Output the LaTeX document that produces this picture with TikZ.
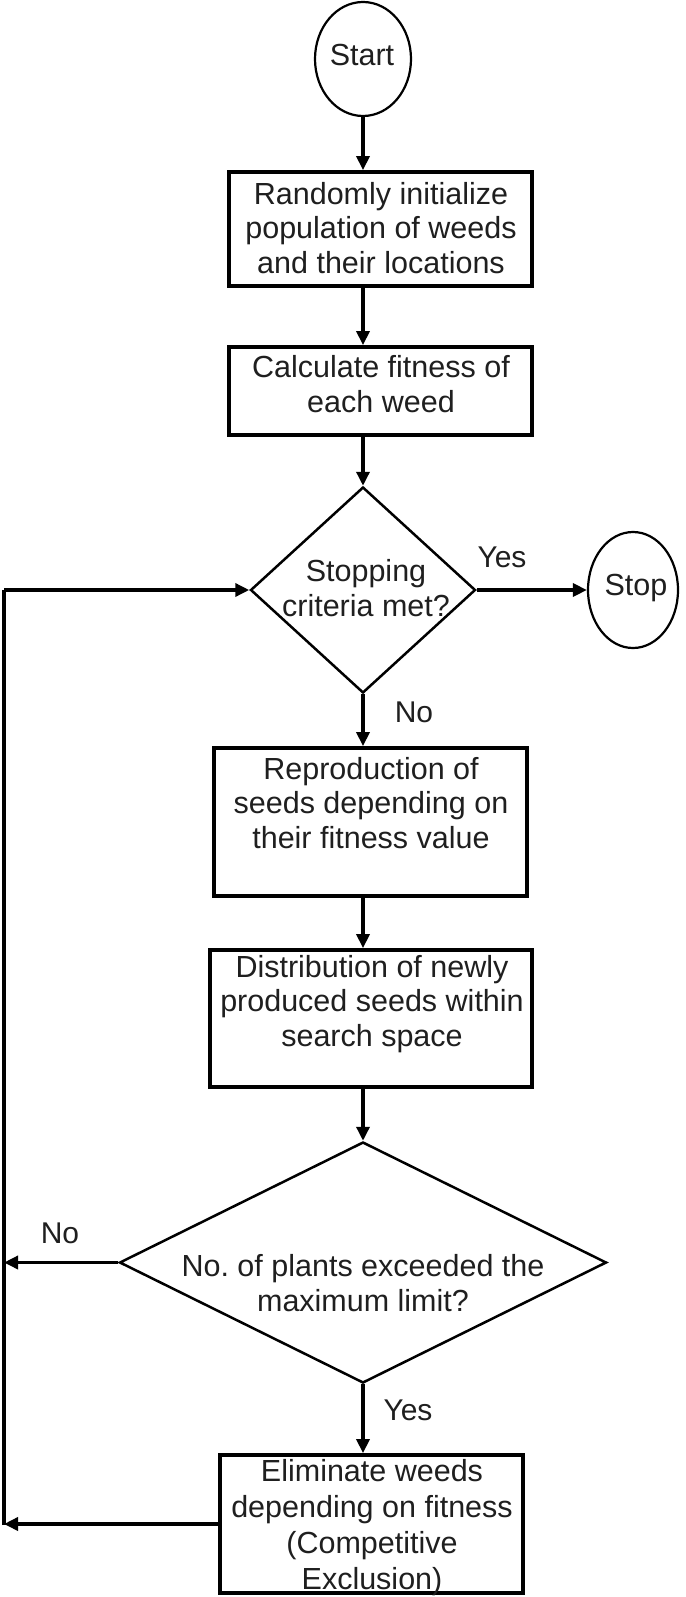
\documentclass[tikz,border=0pt]{standalone}
\usepackage{fontspec}
\setmainfont{Liberation Sans}
\usetikzlibrary{shapes.geometric,arrows.meta}
\begin{document}
\begin{tikzpicture}[x=1pt,y=-1pt,
  txt/.style={inner sep=0pt, align=center, font=\fontsize{30.5}{34.5}\selectfont, text=black!88},
  lbl/.style={inner sep=0pt, font=\fontsize{30}{34}\selectfont, text=black!88},
  boxshape/.style={draw, rectangle, line width=3.8pt, inner sep=0pt},
  term/.style={draw, ellipse, line width=2.2pt, inner sep=0pt},
  decide/.style={draw, diamond, line width=2.5pt, inner sep=0pt},
  conn/.style={line width=3.4pt, -{Triangle[length=14pt,width=13pt]}},
  plain/.style={line width=3.4pt}
]
\fill[white] (0,0) rectangle (685,1597);
\useasboundingbox (0,0) rectangle (685,1597);

% shapes
\node[term, minimum width=96pt, minimum height=114pt] (start) at (363,59) {};
\node[boxshape, minimum width=303pt, minimum height=114pt] (b1) at (380.5,229) {};
\node[boxshape, minimum width=303pt, minimum height=88pt] (b2) at (380.5,391) {};
\node[decide, minimum width=225pt, minimum height=206pt] (d1) at (363,590) {};
\node[term, minimum width=90pt, minimum height=116pt] (stop) at (633,590) {};
\node[boxshape, minimum width=313pt, minimum height=148pt] (b3) at (370.5,822) {};
\node[boxshape, minimum width=322pt, minimum height=137pt] (b4) at (371,1018.5) {};
\node[decide, minimum width=487pt, minimum height=241pt] (d2) at (363,1262.5) {};
\node[boxshape, minimum width=303pt, minimum height=138pt] (b5) at (371.5,1524) {};

% texts
\node[txt] (tstart) at (362,55) {Start};
\node[txt] (t1) at (381,228) {Randomly initialize\\population of weeds\\and their locations};
\node[txt] (t2) at (381,384) {Calculate fitness of\\each weed};
\node[txt] (td1) at (366,588) {Stopping\\criteria met?};
\node[txt] (tstop) at (636,588) {Stop};
\node[txt] (t3) at (371,803) {Reproduction of\\seeds depending on\\their fitness value};
\node[txt] (t4) at (372,1004) {Distribution of newly\\produced seeds within\\search space};
\node[txt] (td2) at (363,1283) {No.\ of plants exceeded the\\maximum limit?};
\node[txt, font=\fontsize{30.5}{36}\selectfont] (t5) at (372,1528) {Eliminate weeds\\depending on fitness\\(Competitive\\Exclusion)};

% labels
\node[lbl] (lyes1) at (502,557) {Yes};
\node[lbl] (lno1) at (414,712) {No};
\node[lbl] (lno2) at (60,1233) {No};
\node[lbl] (lyes2) at (408,1410) {Yes};

% loop coordinates
\coordinate (lt) at (4,590);
\coordinate (lb) at (4,1525);

% connectors
\draw[conn] (start.south) -- (start.south |- b1.north);
\draw[conn] (b1.south -| start.south) -- (start.south |- b2.north);
\draw[conn] (b2.south -| start.south) -- (d1.north);
\draw[conn] (d1.east) -- (stop.west);
\draw[conn] (d1.south) -- (d1.south |- b3.north);
\draw[conn] (b3.south -| d1.south) -- (d1.south |- b4.north);
\draw[conn] (b4.south -| d1.south) -- (d2.north);
\draw[conn] (d2.south) -- (d2.south |- b5.north);
\draw[conn] (d2.west) -- (d2.west -| lt);
\draw[conn, line width=4.5pt] (b5.west) -- (b5.west -| lb);
\draw[plain] (lb) -- (lt);
\draw[conn] (lt) -- (d1.west);
\end{tikzpicture}
\end{document}
